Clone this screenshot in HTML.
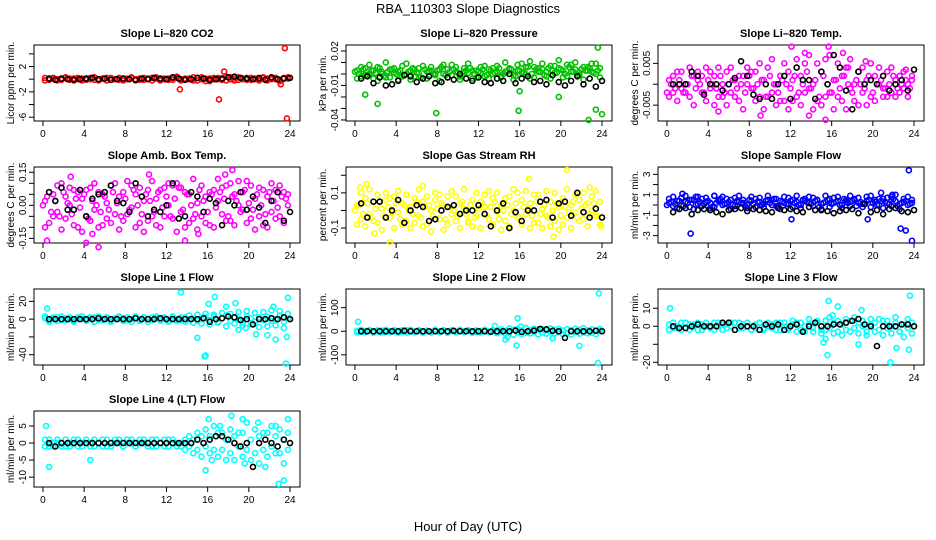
<!DOCTYPE html>
<html><head><meta charset="utf-8"><style>
body{margin:0;background:#fff}
svg{display:block;font-family:"Liberation Sans",sans-serif}
</style></head><body>
<svg id="c" width="936" height="540" viewBox="0 0 936 540">
<text x="468" y="13" text-anchor="middle" font-size="13">RBA_110303  Slope Diagnostics</text>
<text x="468" y="531" text-anchor="middle" font-size="13">Hour of Day (UTC)</text>
</svg>
<script>
// shared hour grids
const hoursColor=[0.2,0.6,1.0,1.4,1.8,2.2,2.6,3.0,3.4,3.8,4.2,4.6,5.0,5.4,5.8,6.2,6.6,7.0,7.4,7.8,8.2,8.6,9.0,9.4,9.8,10.2,10.6,11.0,11.4,11.8,12.2,12.6,13.0,13.4,13.8,14.2,14.6,15.0,15.4,15.8,16.2,16.6,17.0,17.4,17.8,18.2,18.6,19.0,19.4,19.8,20.2,20.6,21.0,21.4,21.8,22.2,22.6,23.0,23.4,23.8];
const hoursColor2=[0.0,0.4,0.8,1.2,1.6,2.0,2.4,2.8,3.2,3.6,4.0,4.4,4.8,5.2,5.6,6.0,6.4,6.8,7.2,7.6,8.0,8.4,8.8,9.2,9.6,10.0,10.4,10.8,11.2,11.6,12.0,12.4,12.8,13.2,13.6,14.0,14.4,14.8,15.2,15.6,16.0,16.4,16.8,17.2,17.6,18.0,18.4,18.8,19.2,19.6,20.0,20.4,20.8,21.2,21.6,22.0,22.4,22.8,23.2,23.6];
const hoursBlack=[0.6,1.2,1.8,2.4,3.0,3.6,4.2,4.8,5.4,6.0,6.6,7.2,7.8,8.4,9.0,9.6,10.2,10.8,11.4,12.0,12.6,13.2,13.8,14.4,15.0,15.6,16.2,16.8,17.4,18.0,18.6,19.2,19.8,20.4,21.0,21.6,22.2,22.8,23.4,24.0];
const xTicks=[0,4,8,12,16,20,24];

// Panel 1: CO2
const co2A=[0.2,-0.1,0.1,-0.2,0.0,0.2,-0.1,0.1,0.0,-0.2,0.1,0.2,-0.1,0.0,0.1,-0.2,0.2,0.0,-0.1,0.1,0.0,0.2,-0.2,0.1,-0.1,0.0,0.2,0.1,-0.2,0.0,0.1,-0.1,0.2,0.0,-0.1,0.1,0.3,-0.2,0.0,0.1,-0.3,0.2,0.0,0.1,-0.2,0.3,0.1,-0.1,0.0,0.2,-0.1,0.1,0.0,0.2,-0.2,0.1,0.0,-0.3,0.2,0.1];
const co2B=[-0.2,0.1,0.2,0.0,-0.1,0.3,0.1,-0.2,0.2,0.1,-0.1,0.0,0.3,-0.2,0.1,0.2,-0.1,0.0,0.2,-0.2,0.1,0.3,0.0,-0.1,0.2,0.1,-0.2,0.3,0.0,0.1,-0.1,0.2,0.4,-0.2,0.1,0.0,-0.2,0.2,0.3,-0.3,0.1,0.0,0.2,-0.1,0.4,0.0,-0.2,0.3,0.1,-0.1,0.2,0.0,-0.2,0.3,0.1,0.0,0.2,-0.1,0.1,0.3];
const co2K=[0.1,-0.1,0.1,0.0,-0.1,0.0,0.1,0.2,0.0,0.1,-0.1,0.0,0.1,0.0,-0.1,0.1,0.0,0.2,0.1,0.0,0.3,0.1,-0.1,0.0,0.2,0.1,-0.1,0.0,0.1,0.3,0.4,0.2,0.1,0.0,0.2,-0.1,0.3,0.0,0.1,0.2];
const co2OutH=[13.3,17.1,17.6,23.1,23.5,23.7];
const co2OutV=[-1.6,-3.2,1.2,-0.8,4.9,-6.2];
// Panel 2: Pressure
const presA=[0.003,-0.002,0.005,0.0,-0.004,0.006,0.002,-0.003,0.004,0.001,-0.005,0.007,0.0,0.003,-0.002,0.005,-0.004,0.002,0.006,-0.001,0.004,0.0,-0.003,0.008,0.002,-0.002,0.005,0.001,-0.004,0.003,0.006,-0.002,0.004,0.0,0.007,-0.003,0.002,0.005,-0.001,0.003,0.009,0.0,-0.004,0.006,0.002,0.004,-0.002,0.007,0.001,0.005,-0.003,0.008,0.002,0.004,-0.001,0.006,0.003,0.009,0.0,0.005];
const presB=[-0.004,0.006,-0.001,0.008,0.003,-0.006,0.0,0.010,-0.003,0.005,0.002,-0.002,0.009,-0.005,0.004,0.001,0.007,-0.004,0.003,0.0,-0.006,0.008,0.004,-0.001,0.006,-0.005,0.002,0.009,0.003,-0.003,0.001,0.007,-0.004,0.005,0.002,-0.002,0.010,0.004,-0.005,0.008,0.001,0.006,0.011,-0.003,0.005,0.009,0.002,-0.004,0.007,0.012,0.003,-0.002,0.008,0.010,0.001,-0.005,0.006,0.002,0.009,-0.003];
const presC=[0.002,0.0,0.004,-0.001,0.003,0.001,0.005,-0.002,0.002,0.004,0.0,0.003,-0.001,0.002,0.005,0.001,-0.003,0.004,0.002,0.0,0.003,0.006,-0.001,0.002,0.004,0.001,-0.002,0.003,0.005,0.0,0.002,0.004,-0.001,0.003,0.001,0.005,0.0,0.002,0.004,-0.002,0.003,0.001,0.006,0.0,0.004,0.002,-0.001,0.005,0.003,0.001,0.004,0.0,0.006,0.002,-0.001,0.004,0.003,0.005,0.001,0.003];
const presK=[-0.004,-0.002,-0.008,-0.003,-0.010,-0.009,-0.006,-0.001,-0.002,-0.007,-0.004,-0.002,-0.008,-0.007,-0.003,-0.005,0.000,-0.004,-0.006,-0.003,-0.007,-0.008,-0.004,-0.006,0.000,-0.008,-0.004,-0.002,-0.007,-0.006,-0.009,-0.001,-0.007,-0.010,-0.006,-0.002,-0.009,-0.004,-0.011,-0.006];
const presOutH=[1.0,2.2,7.9,15.9,16.0,19.8,22.7,23.4,23.6,24.0];
const presOutV=[-0.018,-0.026,-0.034,-0.032,-0.015,-0.020,-0.040,-0.031,0.023,-0.035];
// Panel 3: Li-820 Temp
const ltA=[0.001,-0.002,0.003,-0.001,0.0,-0.003,0.002,0.001,-0.002,0.004,-0.001,0.002,-0.003,0.0,0.003,-0.002,0.001,-0.004,0.002,0.0,-0.001,0.003,-0.003,0.001,0.004,-0.002,0.0,0.002,-0.004,0.003,0.001,-0.003,0.002,0.005,-0.001,0.0,-0.004,0.003,0.006,-0.002,0.001,-0.003,0.002,0.004,-0.001,0.0,0.003,-0.002,0.001,-0.003,0.002,0.0,-0.001,0.003,-0.002,0.001,0.002,-0.001,0.0,0.002];
const ltB=[-0.003,0.002,-0.004,0.003,-0.002,0.004,-0.005,0.003,0.002,-0.004,0.003,-0.005,0.004,-0.003,-0.005,0.004,-0.003,0.002,-0.006,0.004,0.003,-0.004,0.005,-0.006,-0.003,0.006,-0.005,-0.004,0.005,-0.006,-0.004,0.006,-0.005,-0.002,0.007,-0.006,0.005,-0.005,-0.003,0.007,-0.006,0.005,-0.004,-0.006,0.006,-0.004,-0.005,0.004,-0.005,0.005,-0.004,0.004,-0.003,-0.003,0.004,-0.003,-0.002,0.003,-0.003,0.001];
const ltC=[-0.002,0.0,-0.001,0.001,-0.002,0.0,0.002,-0.001,0.0,-0.002,0.001,0.0,-0.001,0.002,-0.002,0.0,0.001,-0.001,0.0,-0.002,0.002,-0.001,0.0,0.001,-0.003,0.002,0.0,-0.002,0.001,0.0,-0.001,0.002,-0.002,0.0,0.003,-0.001,0.001,-0.003,0.002,0.0,-0.002,0.001,-0.001,0.002,0.0,-0.002,0.001,0.0,-0.001,0.002,-0.002,0.0,0.001,-0.001,0.0,0.002,-0.001,0.0,0.001,-0.001];
const ltK=[0.0,0.0,0.0,0.003,0.002,-0.0025,0.0,0.0,-0.0015,0.0,0.0015,0.0055,0.002,-0.0025,-0.0035,0.0,-0.0035,0.0,0.002,-0.0035,0.004,0.001,0.001,-0.0035,0.003,0.0,0.007,0.004,-0.0015,-0.006,0.003,0.0,0.001,0.0,0.002,-0.0015,0.0,0.001,-0.0015,0.0035];
const ltOutH=[5.0,9.1,12.1,13.8,13.4,15.4,15.7,17.1,17.6,19.3,23.2];
const ltOutV=[-0.0065,-0.0075,0.009,-0.0075,0.0075,-0.0085,0.009,0.0075,0.004,0.0055,0.0035];
// Panel 4: Amb box temp
const abA=[0.02,-0.08,0.05,-0.03,0.1,-0.06,0.0,0.07,-0.1,0.03,-0.05,0.08,-0.02,0.06,-0.09,0.01,0.09,-0.04,0.04,-0.07,0.11,-0.01,0.05,-0.08,0.02,0.07,-0.05,0.03,-0.1,0.08,0.0,-0.06,0.1,-0.03,0.06,-0.08,0.12,0.01,-0.05,0.04,-0.09,0.07,0.02,-0.04,0.09,-0.07,0.05,0.0,-0.02,0.11,-0.06,0.03,0.08,-0.09,0.04,-0.03,0.07,-0.05,0.06,0.0];
const abB=[-0.1,0.06,-0.05,0.09,-0.11,0.04,0.08,-0.09,0.06,-0.12,0.07,-0.07,0.1,-0.1,0.05,-0.06,-0.08,0.1,-0.11,0.06,-0.04,0.09,-0.1,0.08,-0.12,-0.07,0.11,-0.09,0.07,-0.05,0.1,0.09,-0.12,0.08,-0.1,0.05,-0.06,-0.11,0.09,-0.08,0.06,-0.1,0.12,0.08,-0.07,0.1,-0.09,0.11,0.06,-0.08,0.09,-0.11,-0.05,0.07,-0.1,0.1,-0.06,0.09,-0.08,0.05];
const abC=[0.0,0.04,-0.03,0.02,-0.05,0.06,0.01,-0.04,0.03,-0.01,0.05,-0.06,0.02,0.0,-0.03,0.04,-0.02,0.06,0.01,-0.05,0.03,-0.02,0.07,0.0,-0.04,0.05,0.02,-0.03,0.06,-0.01,0.04,-0.05,0.03,0.08,-0.02,0.05,0.0,-0.04,0.07,0.02,-0.03,0.05,-0.01,0.06,0.03,-0.05,0.04,0.02,-0.03,0.07,0.01,-0.02,0.05,0.0,-0.04,0.06,0.02,-0.01,0.04,0.03];
const abK=[0.06,0.02,0.08,-0.02,-0.02,0.07,-0.05,0.03,0.05,0.06,0.09,0.02,0.01,-0.03,0.1,0.04,-0.05,-0.02,-0.03,0.0,0.1,-0.06,-0.05,0.06,0.04,-0.03,0.03,0.01,-0.09,0.02,0.0,0.06,-0.02,0.04,-0.01,-0.08,0.02,0.06,-0.07,-0.03];
const abOutH=[0.4,2.7,4.2,4.8,5.4,10.3,13.8,15.1,17.7,18.4];
const abOutV=[-0.16,0.13,-0.17,-0.13,-0.19,0.14,-0.16,-0.13,0.14,0.16];
// Panel 5: Gas stream RH
const rhA=[0.03,-0.05,0.07,-0.02,0.05,-0.07,0.01,0.06,-0.04,0.08,-0.01,0.04,-0.06,0.02,0.07,-0.03,0.05,-0.08,0.0,0.06,-0.05,0.03,0.08,-0.02,-0.06,0.04,0.01,-0.07,0.06,-0.03,0.05,0.02,-0.05,0.07,-0.01,0.03,-0.06,0.08,0.0,-0.04,0.06,-0.02,0.04,-0.07,0.09,0.01,-0.03,0.05,-0.06,0.02,0.07,-0.04,0.03,-0.01,0.06,-0.05,0.04,0.0,-0.03,0.05];
const rhB=[-0.08,0.1,-0.09,0.12,-0.06,0.09,-0.11,0.1,0.07,-0.1,0.11,-0.08,0.09,-0.1,-0.07,0.12,-0.09,0.08,-0.12,0.1,0.09,-0.11,-0.08,0.11,0.08,-0.1,0.12,-0.06,-0.09,0.1,-0.1,0.09,0.11,-0.08,0.1,-0.11,0.07,-0.09,0.12,0.1,-0.08,0.11,-0.1,0.09,-0.07,-0.1,0.11,-0.09,0.1,-0.11,-0.08,0.12,-0.1,0.09,-0.06,0.1,-0.09,0.08,0.11,-0.08];
const rhC=[0.0,0.03,-0.02,0.04,-0.04,0.01,0.05,-0.03,0.02,-0.01,0.04,-0.05,0.03,0.0,-0.02,0.05,-0.04,0.02,0.03,-0.03,0.01,0.04,-0.05,0.02,0.0,-0.03,0.05,-0.02,0.03,-0.04,0.01,0.04,-0.03,0.02,0.05,-0.05,0.0,0.03,-0.02,0.04,-0.04,0.02,0.01,-0.03,0.05,-0.02,0.03,-0.04,0.0,0.04,-0.03,0.02,-0.01,0.05,-0.04,0.01,0.03,-0.02,0.04,-0.03];
const rhK=[0.04,-0.04,0.05,0.05,-0.04,0.0,0.06,-0.07,0.0,0.03,0.02,-0.06,-0.05,0.0,0.02,0.03,-0.02,0.0,0.0,0.03,-0.02,-0.09,0.0,0.04,-0.1,-0.01,-0.06,0.0,0.0,0.05,0.06,-0.04,0.04,0.05,-0.03,0.1,-0.01,-0.04,0.01,-0.04];
const rhOutH=[0.5,1.1,1.9,3.4,6.6,16.9,19.3,20.6,22.8,23.9];
const rhOutV=[0.13,0.15,-0.13,-0.18,0.14,0.18,-0.15,0.23,0.13,-0.09];
// Panel 6: Sample flow
const sfA=[0.2,-0.1,0.4,0.0,0.3,-0.2,0.5,0.1,-0.1,0.3,0.2,-0.2,0.4,0.0,0.1,0.5,-0.1,0.3,0.2,0.0,0.4,-0.2,0.3,0.1,0.5,0.0,-0.1,0.4,0.2,0.1,-0.2,0.3,0.0,0.4,0.2,-0.1,0.5,0.1,0.3,-0.2,0.2,0.4,0.0,0.3,-0.1,0.5,0.2,0.1,0.4,-0.2,0.3,0.0,0.6,0.2,-0.1,0.4,0.1,0.3,0.0,0.2];
const sfB=[0.6,0.8,-0.3,0.7,0.9,0.5,-0.4,0.8,0.6,0.7,-0.3,0.9,0.5,0.8,0.6,-0.4,0.7,0.9,0.5,-0.3,0.8,0.6,0.7,-0.2,0.9,0.5,0.6,-0.4,0.8,0.7,0.5,0.9,-0.3,0.6,0.8,0.7,0.5,-0.4,0.9,0.6,0.7,0.8,-0.3,0.5,0.9,0.6,0.7,-0.2,0.8,0.9,0.5,0.6,-0.3,0.7,0.8,1.0,-0.4,0.6,0.8,0.5];
const sfC=[0.0,0.3,0.1,0.4,-0.1,0.2,0.5,0.0,0.3,0.1,0.4,-0.2,0.2,0.6,0.1,0.3,0.0,0.4,0.2,-0.1,0.5,0.1,0.3,0.0,0.4,0.2,0.6,-0.1,0.3,0.1,0.4,0.2,0.0,0.5,0.3,0.1,0.4,-0.2,0.2,0.5,0.1,0.3,0.0,0.6,0.2,0.4,-0.1,0.3,0.1,0.5,0.2,0.0,0.4,0.3,0.1,0.6,-0.1,0.2,0.4,0.1];
const sfK=[-0.7,-0.4,-0.3,-0.9,-0.5,-0.4,-0.5,-0.7,-0.9,-0.5,-0.4,-0.3,-0.6,-0.4,-0.5,-0.6,-0.7,-0.3,-0.5,-0.4,-0.6,-0.7,-0.2,-0.5,-0.5,-0.6,-0.8,-0.6,-0.5,-0.4,-0.8,0.1,-0.7,-0.5,-0.9,-0.4,-0.3,-0.6,-0.7,-0.5];
const sfOutH=[1.5,2.3,2.8,4.6,12.1,19.5,20.8,21.9,22.7,23.2,23.5,23.8];
const sfOutV=[1.1,-2.8,0.8,0.9,-1.4,-1.4,1.2,1.0,-2.3,-2.5,3.4,-3.5];
// Panel 7: Line 1 flow
const l1A=[1,-2,0,2,-1,1,0,-2,2,0,-1,1,2,-1,0,1,-2,0,2,1,-1,0,1,-2,2,0,-1,1,0,2,-2,1,0,-1,2,0,1,-2,0,2,-1,3,-3,1,4,-2,2,0,-4,3,1,-3,2,-1,3,-2,0,4,-3,1];
const l1B=[3,-3,2,-2,3,-1,2,-3,1,3,-2,2,-3,3,-1,2,-3,1,3,-2,2,-3,3,-1,2,-3,2,3,-2,1,-3,3,-2,2,-3,4,-4,5,-5,6,-6,5,-4,7,-8,6,-5,8,-7,9,-6,7,-9,8,-8,10,-7,9,-10,6];
const l1K=[0,0,0,0,0,0,0,0,1,0,0,0,0,0,1,0,0,0,1,0,0,0,0,0,0,1,-3,0,1,3,2,-1,0,-6,0,0,1,0,2,0];
const l1OutH=[0.4,13.4,15.0,15.7,15.8,16.1,16.7,17.8,18.7,19.0,19.7,20.7,21.8,22.4,22.6,23.6,23.7,23.8];
const l1OutV=[12,30,-21,-42,-41,17,25,14,18,-12,-10,-17,-18,14,-23,-50,-20,24];
// Panel 8: Line 2 flow
const l2A=[2,-3,1,4,-2,0,3,-4,1,-1,2,-3,4,0,-2,3,-1,1,-4,2,0,3,-2,1,-3,4,-1,2,0,-3,1,3,-2,4,-1,0,2,-5,6,-4,3,-6,5,-3,7,-5,4,-2,6,-4,3,-7,5,-3,6,-5,4,-6,3,2];
const l2B=[-5,6,-4,5,-6,4,-5,6,-3,5,-6,4,-5,6,-4,5,-6,3,-5,6,-4,5,-6,4,-5,6,-3,5,-6,4,-5,6,-4,5,-8,9,-10,12,-15,10,-12,14,-9,11,-13,8,-10,12,-8,10,-12,9,-14,11,-10,13,-9,8,-12,10];
const l2K=[0,0,0,0,0,0,0,2,0,0,0,0,0,0,0,2,0,0,0,0,0,-2,0,0,0,3,-3,0,3,10,8,2,0,-28,0,0,0,0,2,0];
const l2OutH=[0.3,13.6,14.6,14.8,15.7,15.8,16.1,19.2,21.8,23.6,23.7];
const l2OutV=[40,22,-35,-25,-60,55,20,-30,-62,-135,160];
// Panel 9: Line 3 flow
const l3A=[1,-1,0,2,-1,1,0,-2,1,0,-1,2,0,1,-1,0,2,-1,1,0,-2,1,2,-1,0,1,-2,2,0,-1,1,2,-2,0,1,-1,2,-2,3,-1,2,-3,1,-2,3,-1,2,0,-3,1,2,-2,3,-1,0,2,-3,1,-1,2];
const l3B=[-2,2,-1,-2,2,-2,1,2,-2,2,-1,-2,2,-2,1,2,-2,2,-1,2,-2,-1,2,-2,2,-1,2,-2,2,-2,3,-3,2,-3,4,-3,3,-4,-2,5,-4,3,-5,4,-3,5,-4,3,-5,4,-3,4,-5,3,-4,5,-3,-6,4,-4];
const l3K=[0,-1,-1,0,1,0,0,0,2,2,-2,0,0,0,-2,1,0,1,-2,0,1,-3,0,2,0,0,1,1,2,3,4,1,0,-11,0,0,0,1,1,0];
const l3OutH=[0.3,15.7,15.6,15.2,15.4,16.1,16.6,18.6,18.9,21.7,22.3,23.6,23.5];
const l3OutV=[10,14,-16,-9,-7,6,11,-10,9,-20,-12,17,-13];
// Panel 10: Line 4 (LT) flow
const l4A=[1,-1,0,1,0,-1,0,1,-1,0,1,0,-1,0,1,-1,0,1,0,-1,1,0,-1,0,1,0,-1,1,0,-1,1,0,-1,0,1,-1,1,-2,2,-1,2,-2,3,-2,1,-3,2,-1,3,-2,1,-3,2,-2,3,-1,2,-3,1,-2];
const l4B=[-1,1,-1,0,-1,1,-1,0,1,-1,0,-1,1,0,-1,1,-1,0,1,-1,0,1,-1,1,0,-1,1,-1,0,1,-1,1,0,-1,-2,2,-3,3,-4,4,-3,5,-4,3,-5,4,-5,3,-4,6,-5,4,-6,3,-4,5,-3,4,-6,3];
const l4K=[0,-1,0,0,0,0,0,0,0,0,0,0,0,0,0,0,0,0,0,0,0,0,0,0,1,0,1,2,2,1,0,-1,0,-7,0,1,0,-1,1,0];
const l4OutH=[0.3,0.6,4.6,15.8,16.1,16.4,17.2,18.3,19.4,19.6,20.9,21.6,22.6,22.9,23.4,23.8];
const l4OutV=[5,-7,-5,-8,7,-5,5,8,7,-6,6,-7,5,-12,-11,7];

const panels=[
 {name:'co2',title:'Slope Li\u2013820 CO2',ylab:'Licor ppm per min.',col:'#ff0000',r:[-6.6,5.4],ticks:[-6,-4,-2,0,2,4],labels:[-6,-2,2],A:co2A,B:co2B,C:null,K:co2K,oh:co2OutH,ov:co2OutV,c:0,rw:0},
 {name:'pressure',title:'Slope Li\u2013820 Pressure',ylab:'kPa per min.',col:'#00c000',r:[-0.0409,0.0252],ticks:[-0.04,-0.03,-0.02,-0.01,0,0.01,0.02],labels:['-0.04','-0.01','0.02'],vals:[-0.04,-0.01,0.02],A:presA,B:presB,C:presC,K:presK,oh:presOutH,ov:presOutV,c:1,rw:0},
 {name:'li820-temp',title:'Slope Li\u2013820 Temp.',ylab:'degrees C per min.',col:'#ff00ff',r:[-0.0088,0.0094],ticks:[-0.005,0,0.005],labels:['-0.005','0.005'],vals:[-0.005,0.005],A:ltA,B:ltB,C:ltC,K:ltK,oh:ltOutH,ov:ltOutV,c:2,rw:0},
 {name:'amb-box-temp',title:'Slope Amb. Box Temp.',ylab:'degrees C per min.',col:'#ff00ff',r:[-0.171,0.174],ticks:[-0.15,-0.1,-0.05,0,0.05,0.1,0.15],labels:['-0.15','0.00','0.15'],vals:[-0.15,0,0.15],A:abA,B:abB,C:abC,K:abK,oh:abOutH,ov:abOutV,c:0,rw:1},
 {name:'gas-stream-rh',title:'Slope Gas Stream RH',ylab:'percent per min.',col:'#ffff00',r:[-0.185,0.247],ticks:[-0.1,0,0.1,0.2],labels:['-0.1','0.1'],vals:[-0.1,0.1],A:rhA,B:rhB,C:rhC,K:rhK,oh:rhOutH,ov:rhOutV,c:1,rw:1},
 {name:'sample-flow',title:'Slope Sample Flow',ylab:'ml/min per min.',col:'#0000ff',r:[-3.72,3.72],ticks:[-3,-2,-1,0,1,2,3],labels:[-3,-1,1,3],A:sfA,B:sfB,C:sfC,K:sfK,oh:sfOutH,ov:sfOutV,c:2,rw:1},
 {name:'line1-flow',title:'Slope Line 1 Flow',ylab:'ml/min per min.',col:'#00ffff',r:[-51.6,33.9],ticks:[-40,-20,0,20],labels:[-40,0,20],A:l1A,B:l1B,C:null,K:l1K,oh:l1OutH,ov:l1OutV,c:0,rw:2},
 {name:'line2-flow',title:'Slope Line 2 Flow',ylab:'ml/min per min.',col:'#00ffff',r:[-143,179],ticks:[-100,0,100],labels:[-100,0,100],A:l2A,B:l2B,C:null,K:l2K,oh:l2OutH,ov:l2OutV,c:1,rw:2},
 {name:'line3-flow',title:'Slope Line 3 Flow',ylab:'ml/min per min.',col:'#00ffff',r:[-21.5,20.7],ticks:[-20,-10,0,10],labels:[-20,0,10],A:l3A,B:l3B,C:null,K:l3K,oh:l3OutH,ov:l3OutV,c:2,rw:2},
 {name:'line4-flow',title:'Slope Line 4 (LT) Flow',ylab:'ml/min per min.',col:'#00ffff',r:[-12.9,9.4],ticks:[-10,-5,0,5],labels:[-10,-5,0,5],A:l4A,B:l4B,C:null,K:l4K,oh:l4OutH,ov:l4OutV,c:0,rw:3}
];
const svg=document.getElementById('c');
const NS='http://www.w3.org/2000/svg';
function mk(tag,attrs,parent){const e=document.createElementNS(NS,tag);for(const k in attrs)e.setAttribute(k,attrs[k]);parent.appendChild(e);return e;}
panels.forEach(p=>{
 const x0=p.c*312+34,x1=x0+266,y0=45+p.rw*122,y1=y0+76;
 const xs=h=>x0+(h+0.87)*(266/25.84);
 const ys=v=>y1-(v-p.r[0])/(p.r[1]-p.r[0])*76;
 const g=mk('g',{},svg);
 
 
 const t=mk('text',{x:(x0+x1)/2,y:y0-8,'text-anchor':'middle','font-size':11,'font-weight':'bold'},g);
 t.textContent=p.title;
 
 
 const yl=mk('text',{transform:`translate(${p.c*312+14},${(y0+y1)/2}) rotate(-90)`,'text-anchor':'middle','font-size':10},g);
 yl.textContent=p.ylab;
 
 
 const fr=mk('rect',{x:x0,y:y0,width:x1-x0,height:y1-y0,fill:'none',stroke:'#000','stroke-width':1},g);
 
 
 xTicks.forEach(h=>{
  const l=mk('line',{x1:xs(h),x2:xs(h),y1:y1,y2:y1+5,stroke:'#000'},g);
  
  
  const tx=mk('text',{x:xs(h),y:y1+16,'text-anchor':'middle','font-size':10},g);
  tx.textContent=h;
  
  
 });
 p.ticks.forEach(v=>{
  const l=mk('line',{x1:x0-5,x2:x0,y1:ys(v),y2:ys(v),stroke:'#000'},g);
  
  
 });
 p.labels.forEach((lab,i)=>{
  const v=p.vals?p.vals[i]:lab;
  const tx=mk('text',{transform:`translate(${x0-8},${ys(v)}) rotate(-90)`,'text-anchor':'middle','font-size':10},g);
  tx.textContent=lab;
  
  
 });
 const pts=[];
 hoursColor.forEach((h,i)=>{pts.push([h,p.A[i],p.col]);pts.push([h,p.B[i],p.col]);});
 if(p.C) hoursColor2.forEach((h,i)=>pts.push([h,p.C[i],p.col]));
 p.oh.forEach((h,i)=>pts.push([h,p.ov[i],p.col]));
 hoursBlack.forEach((h,i)=>pts.push([h,p.K[i],'#000']));
 pts.forEach(q=>{
  const c=mk('circle',{cx:xs(q[0]),cy:ys(q[1]),r:2.5,fill:'none',stroke:q[2],'stroke-width':1.6},g);
  
  
 });
});
</script>
</body></html>
